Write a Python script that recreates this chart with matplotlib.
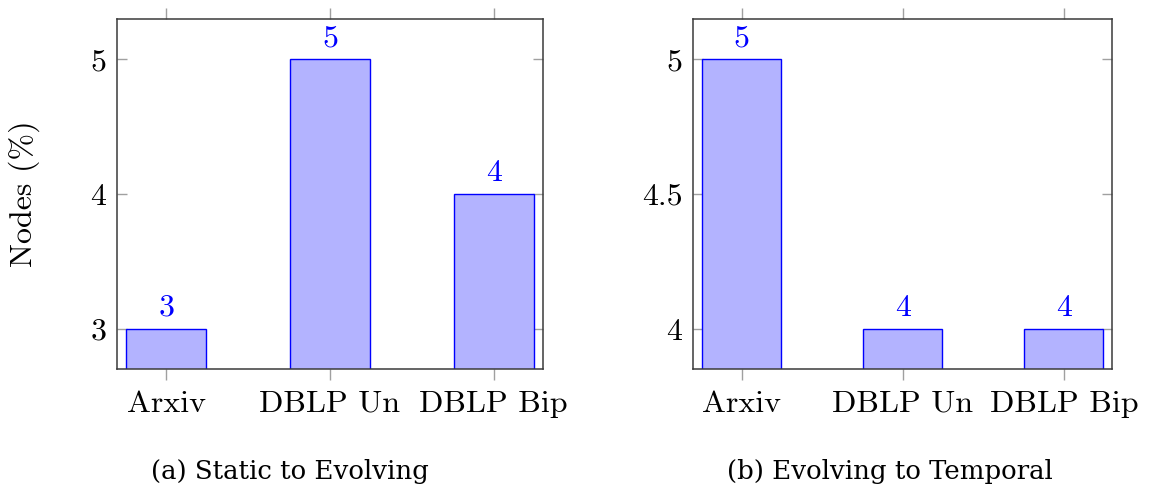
import matplotlib
matplotlib.use("Agg")
import matplotlib.pyplot as plt

categories = ["Arxiv", "DBLP Un", "DBLP Bip"]
static_to_evolving = [3, 5, 4]
evolving_to_temporal = [5, 4, 4]
left_yticks = [3, 4, 5]
left_yticklabels = ["3", "4", "5"]
right_yticks = [4, 4.5, 5]
right_yticklabels = ["4", "4.5", "5"]
captions = ["(a) Static to Evolving", "(b) Evolving to Temporal"]

plt.rcParams["font.family"] = ["cmr10", "DejaVu Serif"]
plt.rcParams["axes.formatter.use_mathtext"] = True

fig = plt.figure(figsize=(11.51, 4.91), dpi=100)
ax1 = fig.add_axes([0.1019, 0.2479, 0.3696, 0.7134])
ax2 = fig.add_axes([0.6024, 0.2479, 0.3638, 0.7134])

fill = (0.7, 0.7, 1.0)
edge = (0.0, 0.0, 1.0)
spine_col = "#3a3a3a"
tick_col = "#a0a0a0"
FS = 23


def enlarged(lo, hi, frac=0.15):
    span = hi - lo
    return lo - frac * span, hi + frac * span


def draw(ax, values, yticks, yticklabels):
    xs = list(range(len(categories)))
    ax.bar(xs, values, width=0.49, color=fill, edgecolor=edge, linewidth=1.0,
           bottom=0, zorder=2)
    for x, v in zip(xs, values):
        ax.annotate(f"{v:g}", (x, v), xytext=(0, 5), textcoords="offset points",
                    ha="center", va="bottom", color=edge, fontsize=FS)
    ax.set_xlim(*enlarged(min(xs), max(xs)))
    ax.set_ylim(*enlarged(min(values), max(values)))
    ax.set_xticks(xs)
    ax.set_xticklabels(categories, fontsize=FS)
    ax.set_yticks(yticks)
    ax.set_yticklabels(yticklabels, fontsize=FS)
    ax.tick_params(axis="x", direction="out", length=8, width=1.0,
                   color=tick_col, top=True, bottom=True, pad=7)
    ax.tick_params(axis="y", direction="in", length=7.5, width=1.0,
                   color=tick_col, left=True, right=True, pad=8)
    for s in ax.spines.values():
        s.set_color(spine_col)
        s.set_linewidth(1.1)
        s.set_zorder(3)


draw(ax1, static_to_evolving, left_yticks, left_yticklabels)
draw(ax2, evolving_to_temporal, right_yticks, right_yticklabels)

ax1.set_ylabel("Nodes (%)", fontsize=FS, labelpad=36)

# subfigure captions, centred under each panel including its labels
fig.text(0.2515, 0.040, captions[0], ha="center", va="center",
         fontsize=18.7, family="DejaVu Serif")
fig.text(0.7733, 0.040, captions[1], ha="center", va="center",
         fontsize=18.7, family="DejaVu Serif")

fig.savefig("out.png", dpi=100)
